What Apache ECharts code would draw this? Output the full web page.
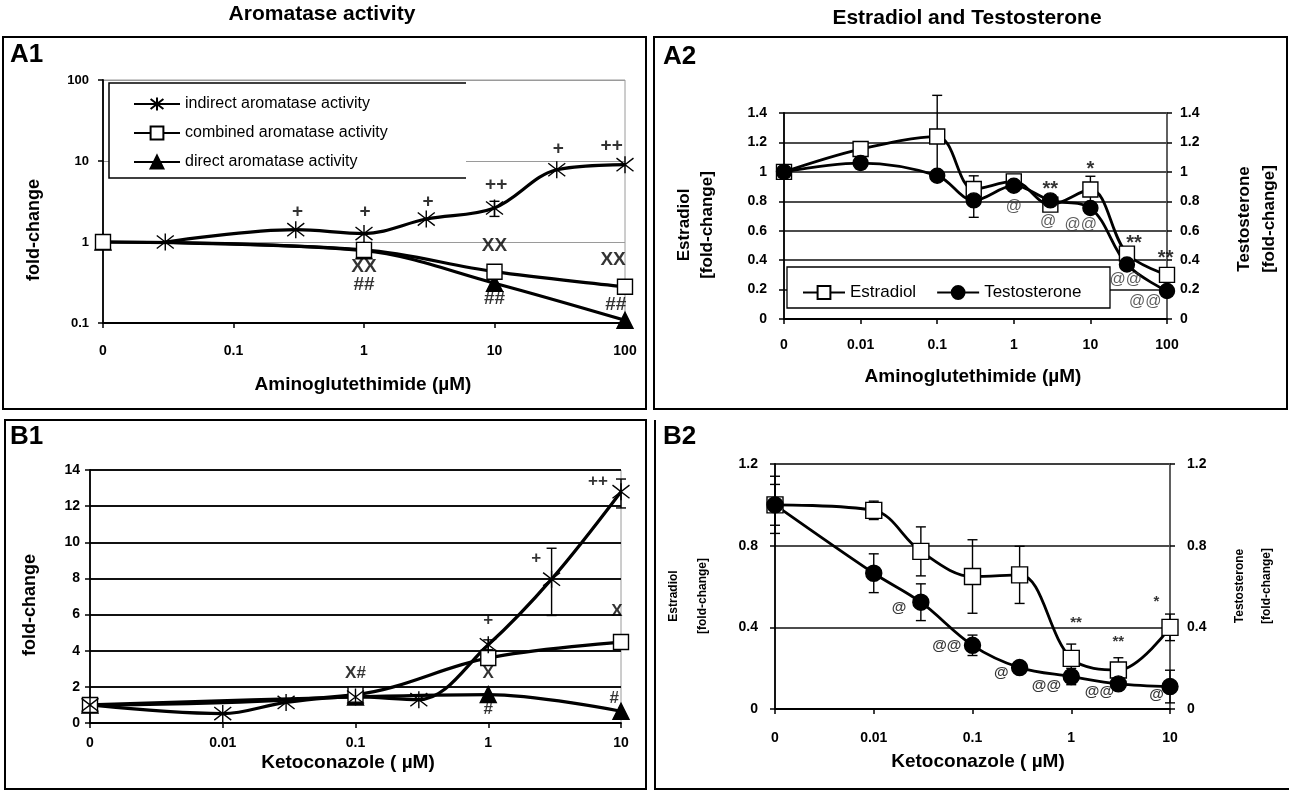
<!DOCTYPE html>
<html>
<head>
<meta charset="utf-8">
<script src="https://cdn.jsdelivr.net/npm/echarts@6/dist/echarts.min.js"></script>
<style>
  html, body { margin: 0; padding: 0; background: #fff; }
  #chart { width: 1289px; height: 791px; }
</style>
</head>
<body>
<div id="chart"></div>
<script>
// ---------- A1: aromatase activity vs aminoglutethimide (µM) ----------
const a1XTicks = ['0', '0.1', '1', '10', '100'];
const a1IndirectDose = [0.03, 0.3, 1, 3, 10, 30, 100];
const a1IndirectFold = [1.0, 1.42, 1.27, 1.92, 2.63, 7.8, 9.0];
const a1CombinedDose = [0, 1, 10, 100];
const a1CombinedFold = [1.0, 0.80, 0.43, 0.28];
const a1DirectDose = [0, 1, 10, 100];
const a1DirectFold = [1.0, 0.78, 0.31, 0.108];
const a1ErrDose = [10];
const a1ErrLow = [2.07];
const a1ErrHigh = [3.18];
const a1NoteText = ['+', '+', '+', '++', '+', '++', 'XX', 'XX', 'XX', '##', '##', '##'];
const a1NoteDose = [0.31, 1.02, 3.1, 10.3, 30.8, 79, 10, 81, 1, 1, 10, 85];
const a1NoteFold = [2.39, 2.39, 3.18, 5.1, 14.1, 15.5, 0.90, 0.605, 0.49, 0.30, 0.198, 0.168];

// ---------- A2: estradiol / testosterone vs aminoglutethimide (µM) ----------
const a2XTicks = ['0', '0.01', '0.1', '1', '10', '100'];
const a2Dose = [0, 0.01, 0.1, 0.3, 1, 3, 10, 30, 100];
const a2Estradiol = [1.0, 1.155, 1.24, 0.883, 0.935, 0.777, 0.88, 0.444, 0.30];
const a2EstradiolErr = [0.02, 0.04, 0.28, 0.09, 0.035, 0.03, 0.09, 0.03, 0.03];
const a2Testosterone = [1.0, 1.06, 0.974, 0.806, 0.906, 0.806, 0.754, 0.37, 0.19];
const a2TestosteroneErr = [0.02, 0.04, 0.03, 0.115, 0.03, 0.03, 0.03, 0.03, 0.03];
const a2StarText = ['**', '*', '**', '**'];
const a2StarDose = [3.0, 10, 37, 96];
const a2StarFold = [0.883, 1.015, 0.516, 0.414];
const a2AtText = ['@', '@', '@@', '@@', '@@'];
const a2AtDose = [1, 2.8, 7.5, 29, 52];
const a2AtFold = [0.766, 0.664, 0.641, 0.267, 0.12];

// ---------- B1: aromatase activity vs ketoconazole (µM) ----------
const b1XTicks = ['0', '0.01', '0.1', '1', '10'];
const b1IndirectDose = [0, 0.01, 0.03, 0.1, 0.3, 1, 3, 10];
const b1IndirectFold = [1.0, 0.52, 1.14, 1.44, 1.29, 4.33, 7.96, 12.8];
const b1CombinedDose = [0, 0.1, 1, 10];
const b1CombinedFold = [1.0, 1.57, 3.6, 4.48];
const b1DirectDose = [0, 0.1, 1, 10];
const b1DirectFold = [1.0, 1.44, 1.57, 0.65];
const b1ErrDose = [1, 3, 10];
const b1ErrLow = [4.05, 5.95, 11.9];
const b1ErrHigh = [4.6, 9.67, 13.5];
const b1NoteText = ['X#', '+', 'X', '#', '+', '++', 'X', '#'];
const b1NoteDose = [0.1, 1, 1, 1, 2.3, 6.7, 9.3, 8.9];
const b1NoteFold = [2.76, 5.7, 2.76, 0.74, 9.1, 13.35, 6.17, 1.38];

// ---------- B2: estradiol / testosterone vs ketoconazole (µM) ----------
const b2XTicks = ['0', '0.01', '0.1', '1', '10'];
const b2Dose = [0, 0.01, 0.03, 0.1, 0.3, 1, 3, 10];
const b2Estradiol = [1.0, 0.973, 0.772, 0.649, 0.657, 0.248, 0.191, 0.40];
const b2EstradiolErr = [0.14, 0.045, 0.12, 0.18, 0.14, 0.07, 0.06, 0.065];
const b2Testosterone = [1.0, 0.665, 0.523, 0.312, 0.203, 0.159, 0.123, 0.11];
const b2TestosteroneErr = [0.1, 0.095, 0.09, 0.05, 0.01, 0.04, 0.03, 0.08];
const b2NoteText = ['@', '@@', '@', '@@', '@@', '@', '**', '**', '*'];
const b2NoteDose = [0.018, 0.055, 0.196, 0.56, 1.93, 7.3, 1.12, 3.0, 7.3];
const b2NoteFold = [0.494, 0.309, 0.175, 0.113, 0.085, 0.069, 0.423, 0.33, 0.526];

// the untreated control (dose 0) sits one decade below the first tick
const ZERO_A1 = 0.01;
const ZERO_OTHER = 0.001;

const FONT = "'Liberation Sans', Arial, Helvetica, sans-serif";
const BLACK = '#000';
const GRAY = '#9a9a9a';

const asterisk = 'path://M0,0L10,10M10,0L0,10M5,-1.5L5,11.5';

function pts(doses, vals, zero) {
  return doses.map((d, i) => [d === 0 ? zero : d, vals[i]]);
}
function errRows(doses, lo, hi, zero) {
  return doses.map((d, i) => [d === 0 ? zero : d, lo[i], hi[i]]);
}
function symErr(doses, vals, err, zero) {
  return doses.map((d, i) => [d === 0 ? zero : d, vals[i] - err[i], vals[i] + err[i]]);
}
function notes(text, doses, vals) {
  return text.map((t, i) => [doses[i], vals[i], t]);
}

function xAxisFor(gi, zero, maxDose, ticks, margin) {
  return {
    type: 'log', logBase: 10, gridIndex: gi, min: zero, max: maxDose,
    axisLine: { show: true, lineStyle: { color: BLACK, width: 1.8 } },
    axisTick: { show: true, inside: false, length: 5, lineStyle: { color: BLACK, width: 1.5 } },
    splitLine: { show: false },
    axisLabel: {
      margin: margin, color: BLACK, fontFamily: FONT, fontWeight: 'bold', fontSize: 14,
      formatter: v => ticks[Math.round(Math.log10(v / zero))]
    }
  };
}

function valueY(gi, min, max, interval, splitColor, splitWidth, margin, pos) {
  return {
    type: 'value', gridIndex: gi, min: min, max: max, interval: interval, position: pos || 'left',
    axisLine: { show: true, lineStyle: { color: pos === 'right' ? '#555' : BLACK, width: 1.8 } },
    axisTick: { show: true, inside: false, length: 5, lineStyle: { color: BLACK, width: 1.5 } },
    splitLine: { show: pos !== 'right', lineStyle: { color: splitColor, width: splitWidth } },
    axisLabel: {
      margin: margin, color: BLACK, fontFamily: FONT, fontWeight: 'bold', fontSize: 14,
      formatter: v => String(+v.toFixed(2))
    }
  };
}

function line(name, xi, yi, data, symbol, size, fill, width) {
  return {
    name: name, type: 'line', xAxisIndex: xi, yAxisIndex: yi, data: data,
    smooth: 0.35, symbol: symbol, symbolSize: size, showSymbol: true,
    lineStyle: { color: BLACK, width: width },
    itemStyle: { color: fill, borderColor: BLACK, borderWidth: 1.4 },
    z: 3, animation: false
  };
}

function errorBars(xi, yi, data, cap, clip) {
  return {
    type: 'custom', xAxisIndex: xi, yAxisIndex: yi, data: data, z: 2,
    clip: !!clip, animation: false, silent: true,
    encode: { x: 0, y: [1, 2] },
    renderItem: function (params, api) {
      const lo = api.coord([api.value(0), api.value(1)]);
      const hi = api.coord([api.value(0), api.value(2)]);
      const st = { stroke: BLACK, lineWidth: 1.4 };
      return {
        type: 'group', children: [
          { type: 'line', shape: { x1: lo[0], y1: lo[1], x2: hi[0], y2: hi[1] }, style: st },
          { type: 'line', shape: { x1: lo[0] - cap, y1: lo[1], x2: lo[0] + cap, y2: lo[1] }, style: st },
          { type: 'line', shape: { x1: hi[0] - cap, y1: hi[1], x2: hi[0] + cap, y2: hi[1] }, style: st }
        ]
      };
    }
  };
}

function noteSeries(xi, yi, data, size, weight, color) {
  return {
    type: 'scatter', xAxisIndex: xi, yAxisIndex: yi, data: data,
    symbolSize: 0, silent: true, z: 6, animation: false,
    label: {
      show: true, position: 'inside', color: color || BLACK, fontFamily: FONT,
      fontWeight: weight, fontSize: size, formatter: p => p.data[2]
    }
  };
}

function txt(x, y, text, size, opts) {
  opts = opts || {};
  return {
    type: 'text', x: x, y: y, rotation: opts.rot || 0, z: 20,
    style: {
      text: text, fill: BLACK, align: 'center', verticalAlign: 'middle',
      font: (opts.weight || 'bold') + ' ' + size + 'px ' + FONT,
      lineHeight: opts.lh || size * 1.2
    }
  };
}

const chart = echarts.init(document.getElementById('chart'), null, { renderer: 'canvas' });

const option = {
  backgroundColor: '#fff',
  animation: false,
  textStyle: { fontFamily: FONT },
  grid: [
    { left: 103, right: 664, top: 80, bottom: 468, show: true, borderColor: GRAY, borderWidth: 1 },
    { left: 784, right: 122, top: 113, bottom: 472, show: true, borderColor: GRAY, borderWidth: 1 },
    { left: 90, right: 668, top: 470, bottom: 68, show: true, borderColor: GRAY, borderWidth: 1 },
    { left: 775, right: 119, top: 464, bottom: 82, show: true, borderColor: GRAY, borderWidth: 1 }
  ],
  xAxis: [
    xAxisFor(0, ZERO_A1, 100, a1XTicks, 21),
    xAxisFor(1, ZERO_OTHER, 100, a2XTicks, 19),
    xAxisFor(2, ZERO_OTHER, 10, b1XTicks, 13),
    xAxisFor(3, ZERO_OTHER, 10, b2XTicks, 22)
  ],
  yAxis: [
    {
      type: 'log', logBase: 10, gridIndex: 0, min: 0.1, max: 100,
      axisLine: { show: true, lineStyle: { color: BLACK, width: 1.8 } },
      axisTick: { show: true, inside: false, length: 5, lineStyle: { color: BLACK, width: 1.5 } },
      splitLine: { show: true, lineStyle: { color: GRAY, width: 1 } },
      axisLabel: {
        margin: 14, color: BLACK, fontFamily: FONT, fontWeight: 'bold', fontSize: 13,
        formatter: v => String(+v.toPrecision(3))
      }
    },
    valueY(1, 0, 1.4, 0.2, '#111', 1.6, 17, 'left'),
    valueY(1, 0, 1.4, 0.2, '#111', 1.6, 13, 'right'),
    valueY(2, 0, 14, 2, '#111', 2.2, 10, 'left'),
    valueY(3, 0, 1.2, 0.4, '#111', 1.6, 17, 'left'),
    valueY(3, 0, 1.2, 0.4, '#111', 1.6, 17, 'right')
  ],
  legend: [
    {
      data: ['indirect aromatase activity', 'combined aromatase activity', 'direct aromatase activity'],
      orient: 'vertical', left: 128, top: 91, itemWidth: 46, itemHeight: 16, itemGap: 13,
      selectedMode: false, z: 12,
      textStyle: { color: BLACK, fontFamily: FONT, fontSize: 16 }
    },
    {
      data: ['Estradiol', 'Testosterone'],
      orient: 'horizontal', left: 797, top: 279, itemWidth: 42, itemHeight: 16, itemGap: 20,
      selectedMode: false, z: 12,
      textStyle: { color: BLACK, fontFamily: FONT, fontSize: 17 }
    }
  ],
  series: [
    // A1
    errorBars(0, 0, errRows(a1ErrDose, a1ErrLow, a1ErrHigh, ZERO_A1), 5),
    line('direct aromatase activity', 0, 0, pts(a1DirectDose, a1DirectFold, ZERO_A1), 'triangle', 16, BLACK, 3.2),
    line('combined aromatase activity', 0, 0, pts(a1CombinedDose, a1CombinedFold, ZERO_A1), 'rect', 15, '#fff', 3.2),
    line('indirect aromatase activity', 0, 0, pts(a1IndirectDose, a1IndirectFold, ZERO_A1), asterisk, 17, '#fff', 3.2),
    noteSeries(0, 0, notes(a1NoteText, a1NoteDose, a1NoteFold), 19, 'bold'),

    // A2
    errorBars(1, 1, symErr(a2Dose, a2Estradiol, a2EstradiolErr, ZERO_OTHER), 5, false),
    errorBars(1, 1, symErr(a2Dose, a2Testosterone, a2TestosteroneErr, ZERO_OTHER), 5, false),
    line('Estradiol', 1, 1, pts(a2Dose, a2Estradiol, ZERO_OTHER), 'rect', 15, '#fff', 2.8),
    line('Testosterone', 1, 1, pts(a2Dose, a2Testosterone, ZERO_OTHER), 'circle', 15, BLACK, 2.8),
    noteSeries(1, 1, notes(a2StarText, a2StarDose, a2StarFold), 20, 'bold'),
    noteSeries(1, 1, notes(a2AtText, a2AtDose, a2AtFold), 16, 'normal', '#333'),

    // B1
    errorBars(2, 3, errRows(b1ErrDose, b1ErrLow, b1ErrHigh, ZERO_OTHER), 5),
    line('direct aromatase activity', 2, 3, pts(b1DirectDose, b1DirectFold, ZERO_OTHER), 'triangle', 16, BLACK, 3.2),
    line('combined aromatase activity', 2, 3, pts(b1CombinedDose, b1CombinedFold, ZERO_OTHER), 'rect', 15, '#fff', 3.2),
    line('indirect aromatase activity', 2, 3, pts(b1IndirectDose, b1IndirectFold, ZERO_OTHER), asterisk, 17, '#fff', 3.2),
    noteSeries(2, 3, notes(b1NoteText, b1NoteDose, b1NoteFold), 17, 'bold'),

    // B2
    errorBars(3, 4, symErr(b2Dose, b2Estradiol, b2EstradiolErr, ZERO_OTHER), 5, false),
    errorBars(3, 4, symErr(b2Dose, b2Testosterone, b2TestosteroneErr, ZERO_OTHER), 5, false),
    line('Estradiol', 3, 4, pts(b2Dose, b2Estradiol, ZERO_OTHER), 'rect', 16, '#fff', 2.8),
    line('Testosterone', 3, 4, pts(b2Dose, b2Testosterone, ZERO_OTHER), 'circle', 16, BLACK, 2.8),
    noteSeries(3, 4, notes(b2NoteText, b2NoteDose, b2NoteFold), 15, 'bold')
  ],
  graphic: [
    // panel frames
    { type: 'rect', z: 15, shape: { x: 3, y: 37, width: 643, height: 372 }, style: { fill: 'none', stroke: BLACK, lineWidth: 2 } },
    { type: 'rect', z: 15, shape: { x: 654, y: 37, width: 633, height: 372 }, style: { fill: 'none', stroke: BLACK, lineWidth: 2 } },
    { type: 'rect', z: 15, shape: { x: 5, y: 420, width: 641, height: 369 }, style: { fill: 'none', stroke: BLACK, lineWidth: 2 } },
    { type: 'polyline', z: 15, shape: { points: [[655, 420], [655, 789], [1289, 789]] }, style: { fill: 'none', stroke: BLACK, lineWidth: 2 } },

    // legend boxes
    { type: 'rect', z: 10, shape: { x: 109, y: 83, width: 357, height: 95 }, style: { fill: '#fff', stroke: 'none' } },
    { type: 'polyline', z: 11, shape: { points: [[466, 83], [109, 83], [109, 178], [466, 178]] }, style: { fill: 'none', stroke: BLACK, lineWidth: 1.5 } },
    { type: 'rect', z: 10, shape: { x: 787, y: 267, width: 323, height: 41 }, style: { fill: '#fff', stroke: BLACK, lineWidth: 1.3 } },

    // column headings
    txt(322, 14, 'Aromatase activity', 21),
    txt(967, 18, 'Estradiol and Testosterone', 21),

    // panel letters
    { type: 'text', x: 10, y: 42, z: 20, style: { text: 'A1', fill: BLACK, font: 'bold 26px ' + FONT } },
    { type: 'text', x: 663, y: 44, z: 20, style: { text: 'A2', fill: BLACK, font: 'bold 26px ' + FONT } },
    { type: 'text', x: 10, y: 424, z: 20, style: { text: 'B1', fill: BLACK, font: 'bold 26px ' + FONT } },
    { type: 'text', x: 663, y: 424, z: 20, style: { text: 'B2', fill: BLACK, font: 'bold 26px ' + FONT } },

    // axis titles
    txt(363, 385, 'Aminoglutethimide (\u00b5M)', 19),
    txt(34, 230, 'fold-change', 18, { rot: Math.PI / 2 }),
    txt(973, 377, 'Aminoglutethimide (\u00b5M)', 19),
    txt(696, 225, 'Estradiol\n[fold-change]', 17, { rot: Math.PI / 2, lh: 23 }),
    txt(1257, 219, 'Testosterone\n[fold-change]', 17, { rot: Math.PI / 2, lh: 25 }),
    txt(348, 763, 'Ketoconazole ( \u00b5M)', 19),
    txt(30, 605, 'fold-change', 18, { rot: Math.PI / 2 }),
    txt(978, 762, 'Ketoconazole ( \u00b5M)', 19),
    txt(688, 596, 'Estradiol\n[fold-change]', 12, { rot: Math.PI / 2, lh: 29 }),
    txt(1253, 586, 'Testosterone\n[fold-change]', 12, { rot: Math.PI / 2, lh: 27 })
  ]
};

chart.setOption(option);
</script>
</body>
</html>
